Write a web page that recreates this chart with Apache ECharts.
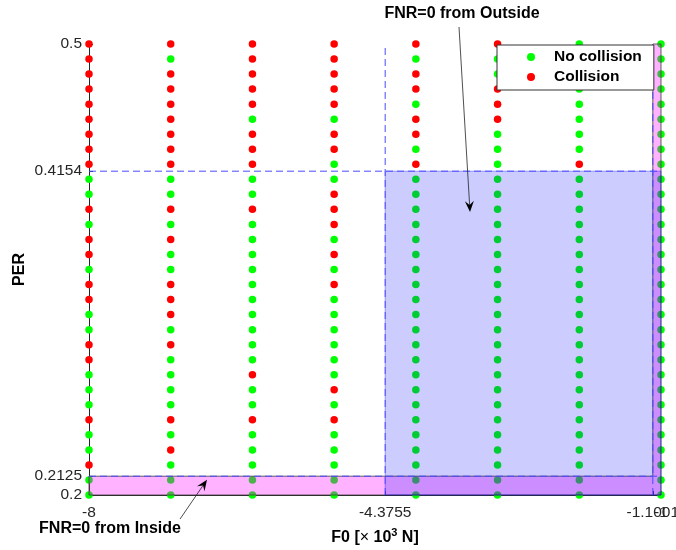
<!DOCTYPE html>
<html><head><meta charset="utf-8">
<script src="https://cdn.jsdelivr.net/npm/echarts@6/dist/echarts.min.js"></script>
<style>html,body{margin:0;padding:0;background:#fff}#c{width:676px;height:550px}</style>
</head><body><div id="c"></div>
<script>
// ---- data ----
const F0 = [-8, -7, -6, -5, -4, -3, -2, -1];
const PER = [0.50,0.49,0.48,0.47,0.46,0.45,0.44,0.43,0.42,0.41,0.40,0.39,0.38,0.37,0.36,0.35,
             0.34,0.33,0.32,0.31,0.30,0.29,0.28,0.27,0.26,0.25,0.24,0.23,0.22,0.21,0.20];
// 1 = collision, 0 = no collision, ordered as PER
const col_m8 = [1,1,1,1,1,1,1,1,1,0,0,1,0,1,1,0, 1,1,0,0,1,1,0,0,0,1,0,0,1,0,0];
const col_m7 = [1,0,1,1,1,1,1,1,1,0,0,1,0,1,0,0, 1,1,1,0,1,0,0,0,0,1,0,1,0,0,0];
const col_m6 = [1,1,1,1,1,0,1,1,1,0,0,1,0,0,0,0, 0,0,0,0,0,0,1,0,0,1,0,0,0,0,0];
const col_m5 = [1,1,1,1,1,0,1,1,0,0,1,1,1,0,1,0, 1,0,0,0,0,0,0,1,0,1,0,0,0,0,0];
const col_m4 = [1,0,1,1,0,1,1,0,1,0,0,0,0,0,0,0, 0,0,0,0,0,0,0,0,0,0,0,0,0,0,0];
const col_m3 = [1,0,0,1,1,1,0,0,0,0,0,0,0,0,0,0, 0,0,0,0,0,0,0,0,0,0,0,0,0,0,0];
const col_m2 = [0,0,0,0,0,0,0,0,1,0,0,0,0,0,0,0, 0,0,0,0,0,0,0,0,0,0,0,0,0,0,0];
const col_m1 = [0,0,0,0,0,0,0,0,0,0,0,0,0,0,0,0, 0,0,0,0,0,0,0,0,0,0,0,0,0,0,0];
const columns = [col_m8, col_m7, col_m6, col_m5, col_m4, col_m3, col_m2, col_m1];

const xTicks = [-8, -4.3755, -1];
const xTicksExtra = [-1.1001];
const yTicks = [0.2, 0.2125, 0.4154, 0.5];

// regions
const insideX = [-8, -1, -1, -1.1001, -1.1001, -8];
const insideY = [0.2, 0.2, 0.5, 0.5, 0.2125, 0.2125];
const outsideX = [-4.3755, -1, -1, -4.3755];
const outsideY = [0.2, 0.2, 0.4154, 0.4154];
const guideX0 = [-8, -4.3755, -8, -1.1001];
const guideY0 = [0.4154, 0.2, 0.2125, 0.2];
const guideX1 = [-1, -4.3755, -1, -1.1001];
const guideY1 = [0.4154, 0.5, 0.2125, 0.5];

// annotations (data coords)
const annText = ['FNR=0 from Outside', 'FNR=0 from Inside'];
const annTextX = [-3.435, -7.743];
const annTextY = [0.52, 0.1774];
const annFromX = [-3.472, -6.886];
const annFromY = [0.5113, 0.184];
const annToX = [-3.337, -6.556];
const annToY = [0.3883, 0.2102];

// ---- build ----
const noColl = [], coll = [];
F0.forEach((x, i) => {
  columns[i].forEach((c, j) => { (c ? coll : noColl).push([x, PER[j]]); });
});

const FONT = "'Liberation Sans', Arial, Helvetica, sans-serif";
const chart = echarts.init(document.getElementById('c'), null, {renderer: 'canvas'});

const tickLabel = {color: '#262626', fontSize: 15.5, fontFamily: FONT, margin: 10,
  formatter: v => String(v), showMinLabel: true, showMaxLabel: true};

const option = {
  animation: false,
  backgroundColor: '#fff',
  textStyle: {fontFamily: FONT},
  grid: {left: 89, right: 15, top: 44, bottom: 55, containLabel: false, outerBoundsMode: 'none'},
  legend: {
    data: ['No collision', 'Collision'],
    orient: 'vertical',
    left: 497, top: 45,
    backgroundColor: '#fff',
    borderColor: '#333', borderWidth: 1, borderRadius: 0,
    padding: [3, 12, 4, 30],
    itemWidth: 8, itemHeight: 8, itemGap: 2,
    textStyle: {fontFamily: FONT, fontSize: 15.5, fontWeight: 'bold', color: '#000', padding: [0, 0, 0, 14], lineHeight: 18},
    z: 10
  },
  xAxis: [{
    type: 'value', min: -8, max: -1, position: 'bottom',
    name: 'F0 [{tm|×} 10{sup|3} N]', nameLocation: 'middle', nameGap: 32,
    nameTextStyle: {fontFamily: FONT, fontSize: 16, fontWeight: 'bold', color: '#000',
      rich: {tm: {fontFamily: FONT, fontSize: 16, fontWeight: 'normal', color: '#000'},
             sup: {fontFamily: FONT, fontSize: 11, fontWeight: 'bold', color: '#000', padding: [0, 0, 10, 0]}}},
    splitLine: {show: false},
    axisLine: {show: true, lineStyle: {color: '#262626', width: 1}},
    axisTick: {show: true, inside: true, length: 4, customValues: xTicks, lineStyle: {color: '#262626'}},
    axisLabel: Object.assign({customValues: xTicks}, tickLabel)
  }, {
    type: 'value', min: -8, max: -1, position: 'bottom', offset: 0,
    splitLine: {show: false},
    axisLine: {show: false},
    axisTick: {show: true, inside: true, length: 4, customValues: xTicksExtra, lineStyle: {color: '#262626'}},
    axisLabel: Object.assign({customValues: xTicksExtra}, tickLabel)
  }],
  yAxis: {
    type: 'value', min: 0.2, max: 0.5,
    name: 'PER', nameLocation: 'middle', nameGap: 61, nameRotate: 90, nameMoveOverlap: false,
    nameTextStyle: {fontFamily: FONT, fontSize: 16, fontWeight: 'bold', color: '#000'},
    splitLine: {show: false},
    axisLine: {show: true, lineStyle: {color: '#262626', width: 1}},
    axisTick: {show: true, inside: true, length: 4, customValues: yTicks, lineStyle: {color: '#262626'}},
    axisLabel: Object.assign({}, tickLabel, {customValues: yTicks, margin: 7})
  },
  series: [
    {name: 'No collision', type: 'scatter', data: noColl, symbol: 'circle', symbolSize: 7.5,
     itemStyle: {color: '#00ff00', opacity: 1}, z: 2, silent: true},
    {name: 'Collision', type: 'scatter', data: coll, symbol: 'circle', symbolSize: 7.5,
     itemStyle: {color: '#ff0000', opacity: 1}, z: 2, silent: true},
    {type: 'custom', silent: true, z: 3, data: [[0, 0]],
     renderItem: (params, api) => ({
       type: 'polygon',
       shape: {points: insideX.map((x, i) => api.coord([x, insideY[i]]))},
       style: {fill: 'rgba(255,0,255,0.3)', stroke: 'rgba(60,60,60,0.8)', lineWidth: 1}
     })},
    {type: 'custom', silent: true, z: 4, data: [[0, 0]],
     renderItem: (params, api) => ({
       type: 'polygon',
       shape: {points: outsideX.map((x, i) => api.coord([x, outsideY[i]]))},
       style: {fill: 'rgba(0,0,255,0.2)', stroke: 'rgba(0,0,255,0.35)', lineWidth: 1}
     })},
    {type: 'custom', silent: true, z: 5, data: guideX0.map((x, i) => [i]),
     renderItem: (params, api) => {
       const i = api.value(0);
       const p0 = api.coord([guideX0[i], guideY0[i]]);
       const p1 = api.coord([guideX1[i], guideY1[i]]);
       return {type: 'line', shape: {x1: p0[0], y1: p0[1], x2: p1[0], y2: p1[1]},
               style: {stroke: '#4a4aff', lineWidth: 1, lineDash: [7, 4]}};
     }}
  ]
};
chart.setOption(option);

// annotations positioned through the chart's own scales
const g = [];
annText.forEach((t, i) => {
  const tp = chart.convertToPixel({gridIndex: 0}, [annTextX[i], annTextY[i]]);
  const a = chart.convertToPixel({gridIndex: 0}, [annFromX[i], annFromY[i]]);
  const b = chart.convertToPixel({gridIndex: 0}, [annToX[i], annToY[i]]);
  g.push({type: 'text', x: tp[0], y: tp[1], z: 20,
          style: {text: t, fontFamily: FONT, fontSize: 16, fontWeight: 'bold', fill: '#000',
                  align: 'center', verticalAlign: 'middle'}});
  const dx = b[0] - a[0], dy = b[1] - a[1], L = Math.hypot(dx, dy);
  const ux = dx / L, uy = dy / L, nx = -uy, ny = ux;
  const hl = 11, hw = 4.5, notch = 7;
  const back = [b[0] - ux * hl, b[1] - uy * hl];
  const nb = [b[0] - ux * notch, b[1] - uy * notch];
  g.push({type: 'line', z: 20, shape: {x1: a[0], y1: a[1], x2: nb[0], y2: nb[1]},
          style: {stroke: '#222', lineWidth: 0.8}});
  g.push({type: 'polygon', z: 20, shape: {points: [
            [b[0], b[1]], [back[0] + nx * hw, back[1] + ny * hw], nb, [back[0] - nx * hw, back[1] - ny * hw]]},
          style: {fill: '#000'}});
});
chart.setOption({graphic: g});
</script>
</body></html>
